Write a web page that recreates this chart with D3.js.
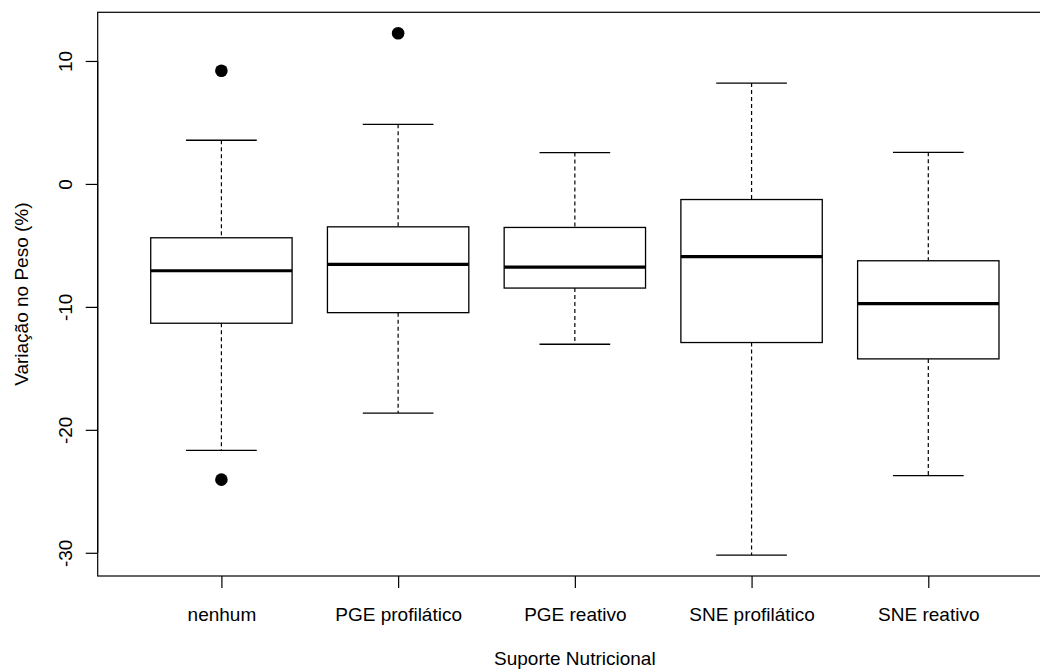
<!DOCTYPE html>
<html>
<head>
<meta charset="utf-8">
<script src="https://cdn.jsdelivr.net/npm/d3@7"></script>
<style>
  body { margin: 0; background: #fff; }
  svg { display: block; font-family: 'Liberation Sans', Arial, sans-serif; }
</style>
</head>
<body>
<div id="chart"></div>
<script>
// values
const categories = ['nenhum', 'PGE profilático', 'PGE reativo', 'SNE profilático', 'SNE reativo'];
const whiskerLow = [-21.67, -18.64, -13.04, -30.19, -23.73];
const q1 = [-11.33, -10.47, -8.47, -12.9, -14.23];
const median = [-7.06, -6.55, -6.76, -5.92, -9.74];
const q3 = [-4.38, -3.49, -3.54, -1.27, -6.25];
const whiskerHigh = [3.55, 4.85, 2.55, 8.2, 2.57];
const outliers = [[9.2, -24.05], [12.26], [], [], []];
const yTicks = [-30, -20, -10, 0, 10];

const width = 1040;
const height = 670;
const margins = { top: 12.3, left: 97.7, bottom: 94 };
const plotBottom = height - margins.bottom;

const boxes = categories.map((c, i) => ({
  name: c, pos: i + 1,
  lo: whiskerLow[i], q1: q1[i], med: median[i], q3: q3[i], hi: whiskerHigh[i],
  out: outliers[i]
}));

const allValues = boxes.flatMap(b => [b.lo, b.hi, ...b.out]);
const [vMin, vMax] = d3.extent(allValues);
const pad = (vMax - vMin) * 0.04;

const xScale = d3.scaleLinear().domain([0.3, categories.length + 0.7]).range([margins.left, 1052]);
const yScale = d3.scaleLinear().domain([vMin - pad, vMax + pad]).range([plotBottom, margins.top]);
const step = xScale(2) - xScale(1);
const boxW = step * 0.8;
const capW = boxW / 2;

const svg = d3.select('#chart').append('svg')
  .attr('width', width)
  .attr('height', height);

// plot frame
svg.append('rect')
  .attr('x', margins.left)
  .attr('y', margins.top)
  .attr('width', xScale.range()[1] - margins.left)
  .attr('height', plotBottom - margins.top)
  .attr('fill', 'none')
  .attr('stroke', '#000')
  .attr('stroke-width', 1.2);

const g = svg.selectAll('g.box').data(boxes).enter().append('g').attr('class', 'box');

// whiskers
g.append('line')
  .attr('x1', d => xScale(d.pos)).attr('x2', d => xScale(d.pos))
  .attr('y1', d => yScale(d.hi)).attr('y2', d => yScale(d.q3))
  .attr('stroke', '#000').attr('stroke-width', 1.2).attr('stroke-dasharray', '4,3');
g.append('line')
  .attr('x1', d => xScale(d.pos)).attr('x2', d => xScale(d.pos))
  .attr('y1', d => yScale(d.q1)).attr('y2', d => yScale(d.lo))
  .attr('stroke', '#000').attr('stroke-width', 1.2).attr('stroke-dasharray', '4,3');

// caps
['hi', 'lo'].forEach(k => {
  g.append('line')
    .attr('x1', d => xScale(d.pos) - capW / 2).attr('x2', d => xScale(d.pos) + capW / 2)
    .attr('y1', d => yScale(d[k])).attr('y2', d => yScale(d[k]))
    .attr('stroke', '#000').attr('stroke-width', 1.3);
});

// boxes
g.append('rect')
  .attr('x', d => xScale(d.pos) - boxW / 2)
  .attr('y', d => yScale(d.q3))
  .attr('width', boxW)
  .attr('height', d => yScale(d.q1) - yScale(d.q3))
  .attr('fill', '#fff')
  .attr('stroke', '#000')
  .attr('stroke-width', 1.3);

// medians
g.append('line')
  .attr('x1', d => xScale(d.pos) - boxW / 2).attr('x2', d => xScale(d.pos) + boxW / 2)
  .attr('y1', d => yScale(d.med)).attr('y2', d => yScale(d.med))
  .attr('stroke', '#000').attr('stroke-width', 3.2);

// outliers
g.selectAll('circle')
  .data(d => d.out.map(v => ({ pos: d.pos, v })))
  .enter().append('circle')
  .attr('cx', d => xScale(d.pos))
  .attr('cy', d => yScale(d.v))
  .attr('r', 6.3)
  .attr('fill', '#000');

// y axis (plain hyphen for negatives, like R)
const yAxis = svg.append('g')
  .attr('transform', `translate(${margins.left},0)`)
  .call(d3.axisLeft(yScale).tickValues(yTicks).tickSize(12).tickFormat(d => String(d)));
yAxis.select('.domain').remove();
yAxis.append('line')
  .attr('y1', yScale(yTicks[0])).attr('y2', yScale(yTicks[yTicks.length - 1]))
  .attr('stroke', '#000').attr('stroke-width', 1.2);
yAxis.selectAll('.tick line').attr('stroke', '#000').attr('stroke-width', 1.2);
yAxis.selectAll('.tick text')
  .attr('x', null).attr('dy', null)
  .attr('transform', 'translate(-25.7,0) rotate(-90)')
  .attr('text-anchor', 'middle')
  .attr('fill', '#000')
  .style('font-size', '19px')
  .style('font-family', "'Liberation Sans', Arial, sans-serif");

// x axis
const xAxis = svg.append('g')
  .attr('transform', `translate(0,${plotBottom})`)
  .call(d3.axisBottom(xScale)
    .tickValues(d3.range(1, categories.length + 1))
    .tickSize(12)
    .tickPadding(20)
    .tickFormat(d => categories[d - 1]));
xAxis.select('.domain').remove();
xAxis.selectAll('.tick line').attr('stroke', '#000').attr('stroke-width', 1.2);
xAxis.selectAll('.tick text')
  .attr('fill', '#000')
  .style('font-size', '19px')
  .style('font-family', "'Liberation Sans', Arial, sans-serif");

// axis titles
svg.append('text')
  .attr('x', (margins.left + xScale.range()[1]) / 2)
  .attr('y', 665)
  .attr('text-anchor', 'middle')
  .style('font-size', '19px')
  .text('Suporte Nutricional');

svg.append('text')
  .attr('transform', `translate(28,${(margins.top + plotBottom) / 2}) rotate(-90)`)
  .attr('text-anchor', 'middle')
  .style('font-size', '19px')
  .text('Variação no Peso (%)');
</script>
</body>
</html>
